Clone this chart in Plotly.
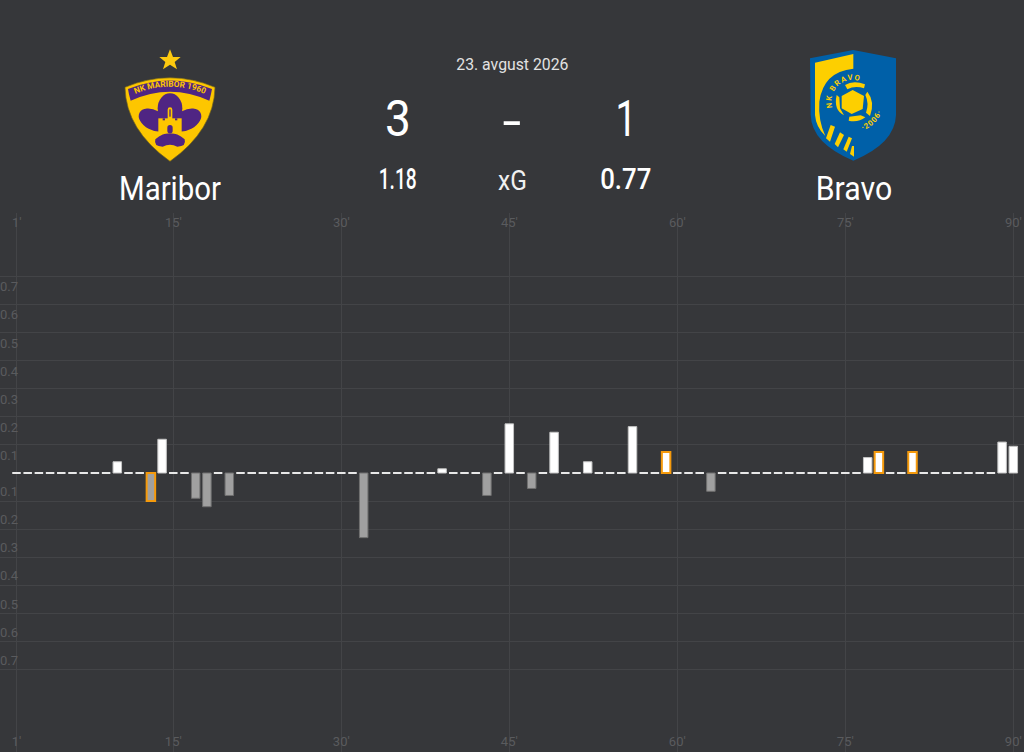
import base64
import plotly.graph_objects as go

# ---- data ----
home_team = "Maribor"
away_team = "Bravo"
match_date = "23. avgust 2026"
home_goals = "3"
away_goals = "1"
home_xg = "1.18"
away_xg = "0.77"

minutes = list(range(1, 91))
home_shots = {10: 0.04, 14: 0.12, 39: 0.015, 45: 0.175, 49: 0.145, 52: 0.04, 56: 0.165,
              59: 0.075, 77: 0.055, 78: 0.075, 81: 0.075, 89: 0.11, 90: 0.095}
away_shots = {13: 0.10, 17: 0.09, 18: 0.12, 20: 0.08, 32: 0.23, 43: 0.08, 47: 0.055, 63: 0.065}
goal_minutes = [13, 59, 78, 81]
x_ticks = [1, 15, 30, 45, 60, 75, 90]
x_tick_labels = ["1'", "15'", "30'", "45'", "60'", "75'", "90'"]
y_levels = [0.1, 0.2, 0.3, 0.4, 0.5, 0.6, 0.7]
y_level_labels = ["0.1", "0.2", "0.3", "0.4", "0.5", "0.6", "0.7"]

# ---- style ----
BG = "#36373a"
GRID = "#434447"
TICK = "#5a5b5e"
FONT = "Roboto, sans-serif"
W, H = 1024, 752

values, fills, edges, edge_w = [], [], [], []
for m in minutes:
    if m in home_shots:
        v, f, e = home_shots[m], "#ffffff", "#c4c4c4"
    elif m in away_shots:
        v, f, e = -away_shots[m], "#a0a0a0", "#707070"
    else:
        v, f, e = 0, "#e8e8e8", "#e8e8e8"
    w = 1 if v else 2
    if m in goal_minutes:
        e, w = "#f59a0c", 2
    values.append(v)
    fills.append(f)
    edges.append(e)
    edge_w.append(w)

fig = go.Figure(go.Bar(
    x=minutes, y=values, width=0.76,
    marker=dict(color=fills, line=dict(color=edges, width=edge_w)),
    hoverinfo="skip",
))

def px_x(p):
    return p / W

def px_y(p):
    return 1 - p / H

notes = []
def note(text, x, y, size, color="#ffffff", weight=400):
    notes.append(dict(text=text, xref="paper", yref="paper", x=px_x(x), y=px_y(y),
                      xanchor="center", yanchor="middle", showarrow=False,
                      font=dict(family=FONT, size=size, color=color, weight=weight)))

note(match_date, 512, 64, 17, "#e2e2e2")
note(home_goals, 398, 119, 50)
note("-", 512, 121, 50)
note(away_goals, 626, 119, 50)
note(home_xg, 398, 179, 30, weight=500)
note("xG", 512, 180, 28, "#f0f0f0")
note(away_xg, 626, 179, 30, weight=500)
note(home_team, 170, 188, 34)
note(away_team, 854, 188, 34)

# horizontal squeeze per header text, to follow the reference's narrow typeface
squeeze = {match_date: 0.93, home_goals: 0.92, "-": 1.35, away_goals: 0.75, home_xg: 0.64,
           "xG": 0.875, away_xg: 0.86, home_team: 0.865, away_team: 0.89}

for t, lab in zip(x_ticks, x_tick_labels):
    notes.append(dict(text=lab, xref="x", yref="paper", x=t, y=px_y(222), xanchor="center",
                      yanchor="middle", showarrow=False, font=dict(family=FONT, size=13, color=TICK)))

for lv, lab in zip(y_levels, y_level_labels):
    for sign, shift in ((1, -10.5), (-1, 9.5)):
        notes.append(dict(text=lab, xref="paper", yref="y", x=0, y=sign * lv, yshift=shift,
                          xanchor="left", yanchor="middle", showarrow=False, xshift=-2,
                          font=dict(family=FONT, size=13, color=TICK)))

MARIBOR_SVG = """<svg xmlns="http://www.w3.org/2000/svg" viewBox="0 0 450 510">
<polygon points="240,28 249,51 272,51 254,66 261,88 240,74 219,88 226,66 208,51 231,51" fill="#fdc90f"/>
<path d="M105 142 Q240 85 375 142 Q372 270 240 364 Q108 270 105 142Z" fill="#fdc600" stroke="#7a6a1a" stroke-width="2"/>
<path d="M114 147 Q240 96 366 147 Q364 160 358 182 Q240 128 122 182 Q116 162 114 147Z" fill="#4f2583"/>
<defs><path id="arc" d="M126 166 Q240 114 354 166"/></defs>
<text font-family="Roboto, sans-serif" font-weight="bold" font-size="25" fill="#fdc600"><textPath href="#arc" startOffset="50%" text-anchor="middle">NK MARIBOR 1960</textPath></text>
<ellipse cx="240" cy="205" rx="37" ry="45" fill="#4f2583"/>
<ellipse cx="190" cy="240" rx="47" ry="30" transform="rotate(28 190 240)" fill="#4f2583"/>
<ellipse cx="290" cy="240" rx="47" ry="30" transform="rotate(-28 290 240)" fill="#4f2583"/>
<path d="M196 298 Q240 260 284 298 Q290 320 262 320 Q240 308 218 320 Q190 320 196 298Z" fill="#4f2583"/>
<rect x="205" y="235" width="70" height="45" fill="#fdc600"/>
<rect x="233" y="202" width="14" height="40" rx="7" fill="#fdc600"/>
<rect x="238" y="208" width="4" height="22" fill="#4f2583"/>
<rect x="232" y="255" width="16" height="25" rx="8" fill="#4f2583"/>
<rect x="218" y="235" width="7" height="6" fill="#4f2583"/><rect x="255" y="235" width="7" height="6" fill="#4f2583"/>
</svg>"""

BRAVO_SVG = """<svg xmlns="http://www.w3.org/2000/svg" viewBox="0 0 390 510">
<path d="M60 55 L190 30 L318 55 L318 225 Q315 310 190 362 Q65 310 62 225Z" fill="#0060a8"/>
<path d="M75 68 L190 42 L190 86 Q100 95 88 185 Q84 240 106 288 Q78 262 75 225Z" fill="#fdcf00"/>
<defs>
<path id="a1" d="M134 217 A64 64 0 0 1 225 131"/>
<path id="a2" d="M195 275 A90 90 0 0 0 280 190"/>
</defs>
<text font-family="Roboto, sans-serif" font-weight="bold" font-size="23" fill="#fdcf00" letter-spacing="4"><textPath href="#a1" startOffset="50%" text-anchor="middle">NK BRAVO</textPath></text>
<text font-family="Roboto, sans-serif" font-weight="bold" font-size="23" fill="#fdcf00" letter-spacing="3"><textPath href="#a2" startOffset="50%" text-anchor="middle">·2006·</textPath></text>
<polygon points="188,150 222,168 218,207 185,222 155,205 155,168" fill="#fdcf00"/>
<path d="M165 135 Q190 120 225 133 L222 145 Q195 135 172 148Z" fill="#fdcf00"/>
<path d="M232 155 Q256 185 240 228 L228 218 Q238 190 226 165Z" fill="#fdcf00"/>
<path d="M178 230 L212 226 L226 232 Q205 248 176 242Z" fill="#fdcf00"/>
<path d="M140 165 L148 172 L150 205 L162 226 Q130 210 140 165Z" fill="#fdcf00"/>
<path d="M108 295 L122 255 L135 260 L120 305Z" fill="#fdcf00"/>
<path d="M134 312 L150 277 L162 285 L144 322Z" fill="#fdcf00"/>
<path d="M160 328 L176 290 L186 295 L170 335Z" fill="#fdcf00"/>
<path d="M180 342 L186 318 L192 318 L192 350Z" fill="#fdcf00"/>
</svg>"""

def data_uri(svg):
    return "data:image/svg+xml;base64," + base64.b64encode(svg.encode("utf-8")).decode()

images = [
    dict(source=data_uri(MARIBOR_SVG), xref="paper", yref="paper", x=px_x(90), y=px_y(40),
         sizex=150 / W, sizey=170 / H, xanchor="left", yanchor="top", sizing="stretch", layer="above"),
    dict(source=data_uri(BRAVO_SVG), xref="paper", yref="paper", x=px_x(790), y=px_y(40),
         sizex=130 / W, sizey=170 / H, xanchor="left", yanchor="top", sizing="stretch", layer="above"),
]

fig.update_layout(
    width=W, height=H, margin=dict(l=0, r=0, t=0, b=0),
    paper_bgcolor=BG, plot_bgcolor=BG, showlegend=False, bargap=0.2,
    annotations=notes, images=images,
    xaxis=dict(range=[-0.473, 90.955], tickvals=x_ticks, ticktext=x_tick_labels,
               ticklabelposition="inside", showticklabels=True, ticks="", showgrid=True,
               gridcolor=GRID, gridwidth=1, zeroline=False, showline=False,
               tickfont=dict(family=FONT, size=13, color=TICK), fixedrange=True),
    yaxis=dict(domain=[0, (H - 213) / H], range=[-0.9929, 0.9253],
               tickvals=[-v for v in y_levels] + y_levels, showticklabels=False, ticks="",
               showgrid=True, gridcolor=GRID, gridwidth=1, zeroline=False, showline=False,
               fixedrange=True),
)

css = "".join(
    '.annotation-text[data-unformatted="%s"]{transform-box:fill-box;transform-origin:center;transform:scaleX(%s)}' % (k, v)
    for k, v in squeeze.items()
)
post = ("document.body.style.margin='0';document.body.style.background='" + BG + "';"
        "var s=document.createElement('style');s.textContent=" + repr(css) + ";document.head.appendChild(s);")

fig.write_html("out.html", config=dict(displayModeBar=False), post_script=post)
